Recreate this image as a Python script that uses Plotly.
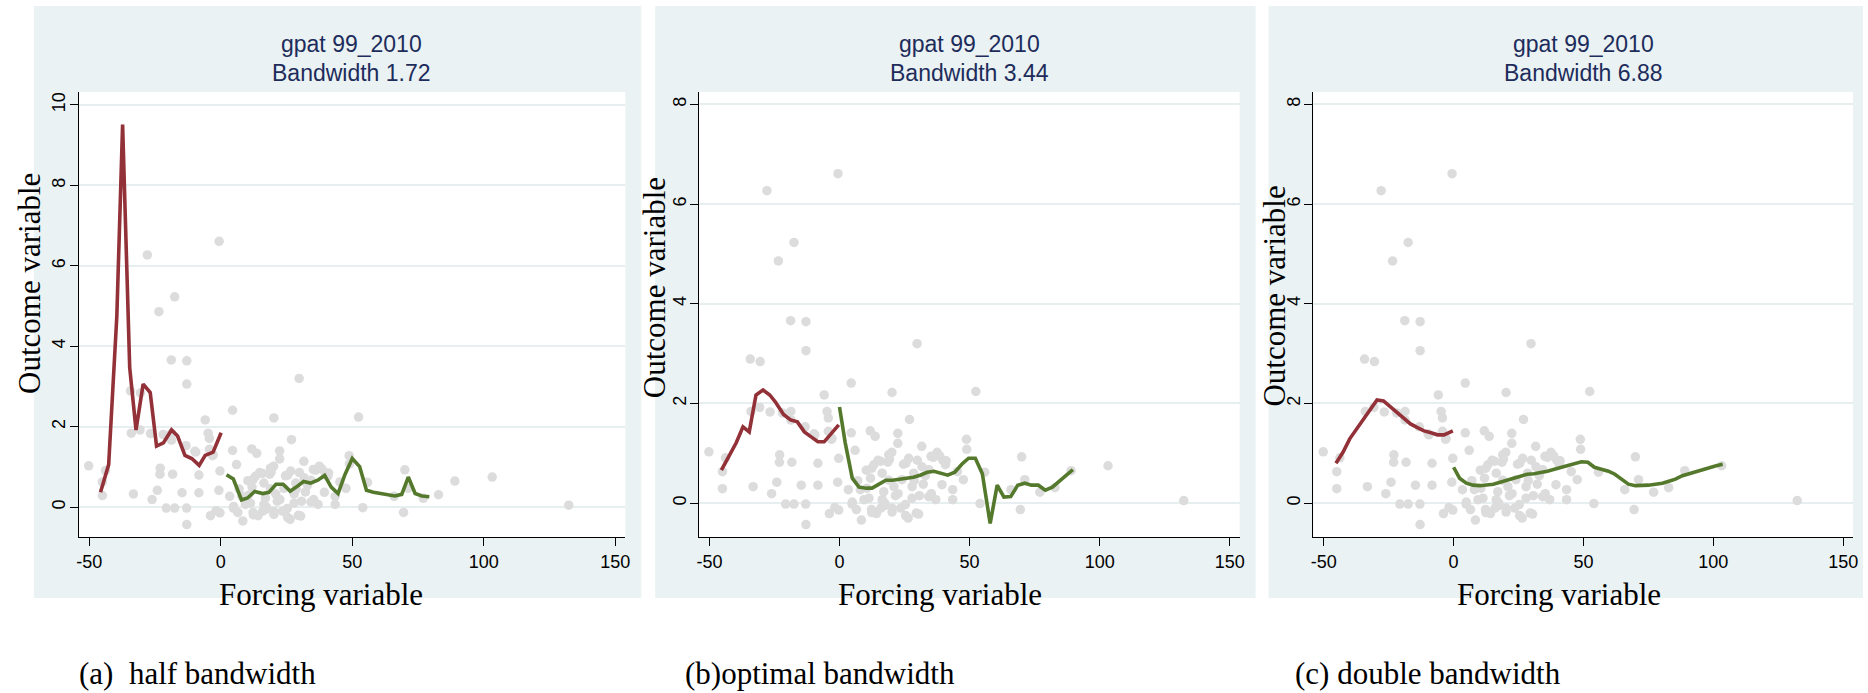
import plotly.graph_objects as go

W, H = 1868, 693

# ---- observations (forcing variable, outcome) ----
forcing = [
    -50.2, -45.0, -45.0, -43.8, -34.3, -30.5, -34.0, -30.7, -33.2, -27.9,
    -26.7, -26.1, -24.1, -23.5, -23.0, -23.1, -21.9, -20.7, -18.8, -18.7,
    -18.7, -18.3, -17.5, -17.5, -14.7, -13.2, -12.9, -12.9, -13.0, -12.9,
    -9.8, -9.5, -8.3, -8.3, -5.9, -4.8, -4.3, -4.3, -3.1, -2.9,
    -3.9, -1.8, -0.6, -0.3, -0.7, -0.3,
    4.5, 4.5, 6.0, 3.4, 4.9, 6.5, 8.4, 8.0, 9.4, 10.3,
    11.3, 11.9, 12.3, 11.8, 13.7, 13.2, 14.2, 15.8, 15.9, 16.4,
    16.4, 17.0, 17.4, 18.6, 18.9, 18.9, 20.1, 20.2, 20.2, 20.9,
    22.4, 22.4, 22.5, 24.0, 24.6, 25.3, 25.4, 26.6, 26.9, 27.9,
    27.9, 28.5, 29.8, 29.9, 30.4, 30.7, 31.6, 31.7, 32.2, 34.3,
    34.3, 35.2, 35.3, 37.5, 39.7, 40.7, 39.4, 43.5, 43.5, 45.3,
    47.6, 48.8, 48.9, 52.4, 54.0, 55.8, 65.9, 69.5, 70.0, 71.2,
    77.0, 82.8, 89.0, 103.2, 132.3,
    4.8, 12.4, 12.4, 14.8, 17.3, 19.2, 20.2, 21.5, 23.5, 25.5,
    26.4, 28.7, 29.5, 33.0, 36.1, 37.0, 38.5, 41.0, 10.5, 7.0,
]
outcome = [
    1.03, 0.29, 0.63, 0.91, 2.89, 2.84, 1.84, 1.92, 0.33, 6.27,
    1.83, 0.19, 0.42, 4.86, 0.97, 0.82, 1.81, -0.02, 3.66, 1.84,
    1.67, 0.82, 5.23, -0.02, 0.36, 1.53, 3.64, 3.06, -0.02, -0.43,
    1.39, 1.37, 0.80, 0.36, 2.17, 1.84, 1.71, 1.44, 1.28, 1.30,
    -0.21, -0.09, 6.61, 0.90, 0.42, -0.14,
    2.41, 1.41, 1.06, 0.27, 0.02, -0.13, -0.34, 0.27, 0.07, 0.66,
    0.10, 0.50, -0.13, 1.45, 1.34, 0.77, -0.21, 0.84, -0.10, 0.60,
    0.07, 0.23, 0.00, 0.82, 0.46, 0.97, 1.02, 2.22, -0.10, 0.33,
    1.40, 1.20, 0.19, 0.47, 0.78, -0.03, -0.25, 0.90, 1.68, 0.33,
    0.10, 0.60, 3.20, 0.86, -0.22, 0.15, 1.14, 0.73, 0.38, 0.67,
    0.13, 0.94, 0.19, 1.02, 0.86, 0.77, 0.37, 0.27, 0.07, 0.63,
    0.47, 1.28, 1.08, 2.24, -0.01, 0.62, 0.27, -0.13, 0.93, 0.47,
    0.22, 0.31, 0.65, 0.75, 0.05,
    -0.02, 0.70, -0.19, 0.86, -0.05, 0.88, -0.18, 0.15, -0.10, 0.80,
    -0.30, 0.45, -0.20, 0.55, 0.92, 0.07, 0.95, 0.85, 0.30, 0.45,
]

# ---- local fits, half bandwidth (1.72) ----
half_left_x = [-45.7, -42.6, -39.5, -37.3, -34.6, -32.2, -29.5, -26.8, -24.4,
               -21.8, -18.7, -16.4, -13.6, -11.0, -8.2, -5.9, -2.9, 0.15]
half_left_y = [0.37, 1.06, 4.74, 9.51, 3.47, 1.92, 3.06, 2.85, 1.52,
               1.60, 1.92, 1.77, 1.29, 1.21, 1.04, 1.29, 1.37, 1.85]
half_right_x = [2.2, 4.8, 7.9, 10.2, 12.9, 16.0, 18.3, 21.0, 23.7, 26.4,
                28.7, 31.5, 34.1, 36.9, 39.5, 42.0, 44.6, 47.2, 50.0, 52.8,
                55.4, 58.0, 60.8, 63.5, 66.2, 68.8, 71.3, 73.9, 76.5, 79.3]
half_right_y = [0.81, 0.70, 0.18, 0.23, 0.39, 0.34, 0.37, 0.57, 0.57, 0.40,
                0.50, 0.64, 0.60, 0.67, 0.79, 0.50, 0.34, 0.81, 1.21, 1.01,
                0.42, 0.37, 0.34, 0.32, 0.28, 0.32, 0.75, 0.34, 0.28, 0.26]

# ---- local fits, optimal bandwidth (3.44) ----
opt_left_x = [-45.4, -42.3, -39.7, -37.1, -34.7, -32.1, -29.4, -26.8, -24.5,
              -21.5, -18.8, -16.2, -13.5, -10.9, -8.3, -5.9, -3.4, -0.3]
opt_left_y = [0.66, 0.94, 1.21, 1.53, 1.43, 2.17, 2.27, 2.17, 2.02,
              1.78, 1.67, 1.63, 1.43, 1.33, 1.23, 1.23, 1.37, 1.57]
opt_right_x = [0.0, 2.2, 4.9, 7.5, 10.3, 12.5, 15.2, 17.8, 20.4, 23.1,
               25.8, 28.4, 31.0, 33.7, 36.3, 39.0, 41.6, 44.3, 47.0, 49.6,
               52.2, 54.9, 56.1, 57.9, 60.6, 63.2, 65.8, 68.5, 71.2, 73.8,
               76.4, 79.1, 81.8, 84.4, 87.0, 89.7]
opt_right_y = [1.93, 1.21, 0.50, 0.32, 0.30, 0.30, 0.38, 0.46, 0.46, 0.48,
               0.50, 0.52, 0.56, 0.62, 0.64, 0.59, 0.56, 0.62, 0.78, 0.90,
               0.90, 0.59, 0.18, -0.41, 0.36, 0.12, 0.13, 0.36, 0.40, 0.36,
               0.36, 0.26, 0.32, 0.44, 0.55, 0.67]

# ---- local fits, double bandwidth (6.88) ----
dbl_left_x = [-45.3, -42.6, -40.0, -37.4, -34.7, -32.2, -29.5, -27.0, -24.5,
              -21.8, -19.1, -16.6, -14.1, -11.4, -8.7, -6.2, -3.7, -1.8, -0.3]
dbl_left_y = [0.80, 1.02, 1.29, 1.49, 1.69, 1.89, 2.07, 2.05, 1.94,
              1.83, 1.71, 1.59, 1.52, 1.45, 1.41, 1.37, 1.37, 1.41, 1.45]
dbl_right_x = [0.0, 2.3, 4.9, 7.5, 10.1, 12.6, 15.3, 17.9, 20.5, 23.0,
               25.7, 28.3, 30.9, 33.4, 36.1, 38.8, 41.3, 43.8, 46.5, 49.2,
               51.7, 54.2, 56.9, 59.6, 62.1, 64.6, 67.3, 70.0, 72.5, 75.0,
               77.7, 80.4, 82.9, 85.4, 88.1, 90.7, 93.3, 95.8, 98.5, 101.1, 103.6]
dbl_right_y = [0.72, 0.50, 0.40, 0.36, 0.35, 0.36, 0.38, 0.42, 0.46, 0.51,
               0.54, 0.58, 0.59, 0.61, 0.64, 0.68, 0.72, 0.75, 0.80, 0.83,
               0.82, 0.72, 0.68, 0.64, 0.58, 0.48, 0.38, 0.35, 0.35, 0.36,
               0.38, 0.40, 0.44, 0.48, 0.55, 0.59, 0.64, 0.68, 0.72, 0.75, 0.78]

# ---- ticks and text ----
x_tick_vals = [-50, 0, 50, 100, 150]
x_tick_text = ["-50", "0", "50", "100", "150"]
y_ticks_half = [0, 2, 4, 6, 8, 10]
y_ticks_other = [0, 2, 4, 6, 8]
bandwidths = ["1.72", "3.44", "6.88"]
captions = ["(a)\u00a0 half bandwidth", "(b)optimal bandwidth", "(c) double bandwidth"]

# ---- styling ----
BG = "#eaf2f3"
GRID = "#e6eef0"
RED = "#923137"
GREEN = "#55792c"
DOT = "#dcdcdc"
NAVY = "#1d2c5b"
SANS = "Liberation Sans, Arial, sans-serif"
SERIF = "Liberation Serif, Times New Roman, serif"


def fx(p):
    return p / W


def fy(p):
    return 1 - p / H


# pixel geometry of each panel: background box, plot box, label anchors
panels = [
    dict(bg=(31, 641), plot=(76, 625), yrange=[-0.74, 10.32], yticks=y_ticks_half,
         ytitle=(26, 283), xtitle=319, cap=74),
    dict(bg=(655, 1258), plot=(699, 1242), yrange=[-0.68, 8.25], yticks=y_ticks_other,
         ytitle=(654, 288), xtitle=941, cap=683),
    dict(bg=(1271, 1868), plot=(1316, 1858), yrange=[-0.68, 8.25], yticks=y_ticks_other,
         ytitle=(1276, 296), xtitle=1563, cap=1296),
]
PLOT_TOP, PLOT_BOTTOM = 92, 537
BG_TOP, BG_BOTTOM = 6, 598

fits = [
    (half_left_x, half_left_y, half_right_x, half_right_y),
    (opt_left_x, opt_left_y, opt_right_x, opt_right_y),
    (dbl_left_x, dbl_left_y, dbl_right_x, dbl_right_y),
]

fig = go.Figure()
shapes, annotations = [], []
tick_font = dict(family=SANS, size=18, color="#000000")

for i, (p, (lx, ly, rx, ry)) in enumerate(zip(panels, fits)):
    n = "" if i == 0 else str(i + 1)
    xa, ya = "x" + n, "y" + n

    fig.add_trace(go.Scatter(x=forcing, y=outcome, mode="markers", xaxis=xa, yaxis=ya,
                             marker=dict(color=DOT, size=9.5, line=dict(width=0)),
                             showlegend=False, hoverinfo="skip"))
    fig.add_trace(go.Scatter(x=lx, y=ly, mode="lines", xaxis=xa, yaxis=ya,
                             line=dict(color=RED, width=3.6), showlegend=False))
    fig.add_trace(go.Scatter(x=rx, y=ry, mode="lines", xaxis=xa, yaxis=ya,
                             line=dict(color=GREEN, width=3.6), showlegend=False))

    fig.layout["xaxis" + n] = dict(
        domain=[fx(p["plot"][0]), fx(p["plot"][1])], anchor=ya,
        range=[-54.0, 153.8], tickvals=x_tick_vals, ticktext=x_tick_text,
        showgrid=False, zeroline=False, showline=True, linecolor="#000000", linewidth=1.3,
        ticks="outside", ticklen=8, tickwidth=1, tickcolor="#000000", tickfont=tick_font,
    )
    fig.layout["yaxis" + n] = dict(
        domain=[fy(PLOT_BOTTOM), fy(PLOT_TOP)], anchor=xa,
        range=p["yrange"], tickvals=p["yticks"], tickangle=-90, ticklabelstandoff=-3,
        showgrid=True, gridcolor=GRID, gridwidth=1.6, zeroline=False,
        showline=True, linecolor="#000000", linewidth=1.3,
        ticks="outside", ticklen=8, tickwidth=1, tickcolor="#000000", tickfont=tick_font,
    )

    # panel background, then the white plotting region on top of it
    shapes.append(dict(type="rect", xref="paper", yref="paper", layer="below",
                       x0=fx(p["bg"][0]), x1=fx(p["bg"][1]), y0=fy(BG_BOTTOM), y1=fy(BG_TOP),
                       fillcolor=BG, line=dict(width=0)))
    shapes.append(dict(type="rect", xref="paper", yref="paper", layer="below",
                       x0=fx(p["plot"][0]), x1=fx(p["plot"][1]),
                       y0=fy(PLOT_BOTTOM), y1=fy(PLOT_TOP),
                       fillcolor="#ffffff", line=dict(width=0)))

    cx = fx((p["plot"][0] + p["plot"][1]) / 2)
    annotations.append(dict(text="gpat 99_2010", xref="paper", yref="paper", x=cx, y=fy(43.5),
                            xanchor="center", yanchor="middle", showarrow=False,
                            font=dict(family=SANS, size=23, color=NAVY)))
    annotations.append(dict(text="Bandwidth " + bandwidths[i], xref="paper", yref="paper",
                            x=cx, y=fy(73), xanchor="center", yanchor="middle", showarrow=False,
                            font=dict(family=SANS, size=23, color=NAVY)))
    annotations.append(dict(text="Outcome variable", xref="paper", yref="paper",
                            x=fx(p["ytitle"][0]), y=fy(p["ytitle"][1]), textangle=-90,
                            xanchor="center", yanchor="middle", showarrow=False,
                            font=dict(family=SERIF, size=31, color="#000000")))
    annotations.append(dict(text="Forcing variable", xref="paper", yref="paper",
                            x=fx(p["xtitle"]), y=fy(594), xanchor="center", yanchor="middle",
                            showarrow=False, font=dict(family=SERIF, size=31, color="#000000")))
    annotations.append(dict(text=captions[i], xref="paper", yref="paper",
                            x=fx(p["cap"]), y=fy(673), xanchor="left", yanchor="middle",
                            showarrow=False, font=dict(family=SERIF, size=31, color="#000000")))

fig.update_layout(
    width=W, height=H, margin=dict(l=0, r=0, t=0, b=0),
    paper_bgcolor="#ffffff", plot_bgcolor="#ffffff",
    shapes=shapes, annotations=annotations, showlegend=False,
)

fig.write_html("out.html")
